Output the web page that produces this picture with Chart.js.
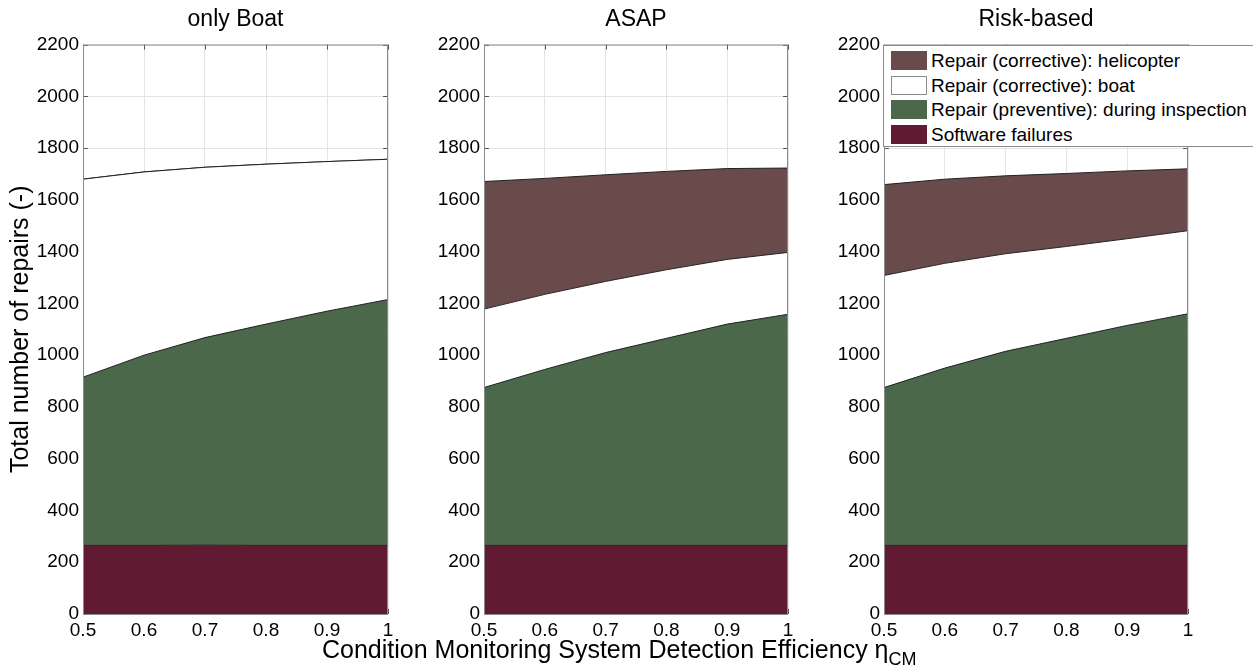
<!DOCTYPE html>
<html>
<head>
<meta charset="utf-8">
<script src="https://cdn.jsdelivr.net/npm/chart.js@4.4.1/dist/chart.umd.min.js"></script>
<style>
  html, body { margin: 0; padding: 0; background: #fff; }
  #wrap { position: relative; width: 1253px; height: 672px; overflow: hidden;
          font-family: "Liberation Sans", Arial, sans-serif; color: #000; }
  canvas { position: absolute; top: 0; }
  #xtitle { position: absolute; left: 322px; top: 634px; font-size: 25px; line-height: 30px; white-space: nowrap; }
  #xtitle sub { font-size: 18px; vertical-align: -7px; }
  #legend { position: absolute; left: 883px; top: 45px; width: 372px; height: 102px;
            border: 1px solid #8a8a8a; background: #fff; box-sizing: border-box; }
  .row { position: absolute; left: 7px; height: 19px; font-size: 19px; line-height: 19px; white-space: nowrap; }
  .sw { position: absolute; left: 0; top: 0; width: 36px; height: 19px; box-sizing: border-box; }
  .lbl { position: absolute; left: 40px; top: 0; }
</style>
</head>
<body>
<div id="wrap">
  <canvas id="c0" width="400" height="672" style="left:0px"></canvas>
  <canvas id="c1" width="400" height="672" style="left:400px"></canvas>
  <canvas id="c2" width="453" height="672" style="left:800px"></canvas>
  <div id="xtitle">Condition Monitoring System Detection Efficiency η<sub>CM</sub></div>
  <div id="legend"></div>
</div>
<script>
// Detection efficiency of the condition monitoring system
const etaCM = [0.5, 0.6, 0.7, 0.8, 0.9, 1.0];
const yTicks = { min: 0, max: 2200, step: 200 };
const xTicks = { min: 0.5, max: 1, step: 0.1 };

const panelTitles = ['only Boat', 'ASAP', 'Risk-based'];
const seriesLabels = [
  'Software failures',
  'Repair (preventive): during inspection',
  'Repair (corrective): boat',
  'Repair (corrective): helicopter'
];
const seriesColors = ['#621a33', '#4b684b', '#ffffff', '#6a4b4c'];

// Number of repairs per layer (stacked bottom to top)
// only Boat
const onlyBoatSoftware   = [265, 265, 266, 265, 265, 265];
const onlyBoatPreventive = [650, 735, 802, 855, 905, 950];
const onlyBoatBoat       = [765, 708, 658, 618, 578, 542];
const onlyBoatHeli       = [0, 0, 0, 0, 0, 0];
// ASAP
const asapSoftware   = [265, 265, 265, 265, 265, 265];
const asapPreventive = [610, 680, 745, 800, 855, 893];
const asapBoat       = [303, 290, 275, 265, 250, 239];
const asapHeli       = [493, 448, 412, 380, 351, 326];
// Risk-based
const riskSoftware   = [265, 265, 265, 265, 265, 265];
const riskPreventive = [610, 685, 750, 800, 850, 895];
const riskBoat       = [433, 405, 377, 355, 335, 321];
const riskHeli       = [351, 325, 301, 282, 262, 239];

const panels = [
  [onlyBoatSoftware, onlyBoatPreventive, onlyBoatBoat, onlyBoatHeli],
  [asapSoftware, asapPreventive, asapBoat, asapHeli],
  [riskSoftware, riskPreventive, riskBoat, riskHeli]
];

// plot-area geometry of each panel inside its canvas
const panelLayout = [
  { yWidth: 83, right: 12 },
  { yWidth: 84, right: 12 },
  { yWidth: 84, right: 65 }
];

const FONT = '"Liberation Sans", Arial, sans-serif';

// plain number labels: 2200, 0.5 ... 1
const plainLabel = v => String(Number(Number(v).toFixed(2)));

// box around the plot area plus inward tick marks
const framePlugin = {
  id: 'frame',
  beforeDatasetsDraw(chart) {
    const { ctx, chartArea: a, scales: { x, y } } = chart;
    ctx.save();
    ctx.strokeStyle = '#555';
    ctx.lineWidth = 1;
    ctx.beginPath();
    x.ticks.forEach(t => {
      const px = Math.round(x.getPixelForValue(t.value)) + 0.5;
      ctx.moveTo(px, a.top); ctx.lineTo(px, a.top + 5);
      ctx.moveTo(px, a.bottom); ctx.lineTo(px, a.bottom - 5);
    });
    y.ticks.forEach(t => {
      const py = Math.round(y.getPixelForValue(t.value)) + 0.5;
      ctx.moveTo(a.left, py); ctx.lineTo(a.left + 5, py);
      ctx.moveTo(a.right, py); ctx.lineTo(a.right - 5, py);
    });
    ctx.stroke();
    ctx.restore();
  },
  afterDatasetsDraw(chart) {
    const { ctx, chartArea: a } = chart;
    ctx.save();
    ctx.strokeStyle = '#8a8a8a';
    ctx.lineWidth = 1;
    ctx.strokeRect(a.left + 0.5, a.top + 0.5, a.right - a.left - 1, a.bottom - a.top);
    ctx.restore();
  }
};

function makeDatasets(layers) {
  return layers.map((vals, i) => ({
    label: seriesLabels[i],
    data: vals.map((v, k) => ({ x: etaCM[k], y: v })),
    backgroundColor: seriesColors[i],
    borderColor: '#222',
    borderWidth: 1,
    pointRadius: 0,
    tension: 0,
    fill: i === 0 ? 'origin' : '-1'
  }));
}

const charts = panels.map((layers, p) => {
  const lay = panelLayout[p];
  return new Chart(document.getElementById('c' + p), {
    type: 'line',
    data: { datasets: makeDatasets(layers) },
    options: {
      responsive: false,
      animation: false,
      events: [],
      layout: { padding: { top: 0, right: lay.right, bottom: 0, left: 0 } },
      plugins: {
        legend: { display: false },
        tooltip: { enabled: false },
        title: {
          display: true,
          text: panelTitles[p],
          fullSize: false,
          color: '#000',
          font: { family: FONT, size: 23, weight: 'normal', lineHeight: 1.2 },
          padding: { top: 6, bottom: 11 }
        }
      },
      scales: {
        x: {
          type: 'linear',
          min: xTicks.min, max: xTicks.max,
          afterFit: s => { s.height = 58; s.paddingLeft = 0; s.paddingRight = 0; },
          grid: { color: '#e4e4e4', drawTicks: false },
          border: { display: false },
          ticks: { stepSize: xTicks.step, padding: 5, color: '#000', maxRotation: 0,
                   callback: plainLabel,
                   font: { family: FONT, size: 19 } }
        },
        y: {
          stacked: true,
          min: yTicks.min, max: yTicks.max,
          afterFit: s => { s.width = lay.yWidth; s.paddingTop = 0; s.paddingBottom = 0; },
          grid: { color: '#e4e4e4', drawTicks: false },
          border: { display: false },
          ticks: { stepSize: yTicks.step, padding: 4, color: '#000',
                   callback: plainLabel,
                   font: { family: FONT, size: 19 } },
          title: {
            display: p === 0,
            text: 'Total number of repairs (-)',
            color: '#000',
            font: { family: FONT, size: 25, lineHeight: 1.2 },
            padding: { top: 6, bottom: 0 }
          }
        }
      }
    },
    plugins: [framePlugin]
  });
});

// legend in the last panel, top entry first
(function buildLegend() {
  const box = document.getElementById('legend');
  const ds = charts[2].data.datasets.slice().reverse();
  ds.forEach((d, i) => {
    const row = document.createElement('div');
    row.className = 'row';
    row.style.top = (5 + i * 24.7) + 'px';
    const sw = document.createElement('div');
    sw.className = 'sw';
    sw.style.background = d.backgroundColor;
    sw.style.border = '1px solid ' + (d.backgroundColor === '#ffffff' ? '#8a8a8a' : d.backgroundColor);
    const lbl = document.createElement('span');
    lbl.className = 'lbl';
    lbl.textContent = d.label;
    row.appendChild(sw);
    row.appendChild(lbl);
    box.appendChild(row);
  });
})();
</script>
</body>
</html>
